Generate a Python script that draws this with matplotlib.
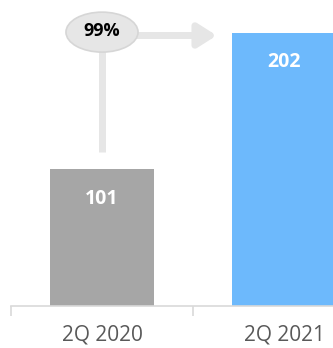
import matplotlib.pyplot as plt
from matplotlib.patches import Ellipse

# data
categories = ["2Q 2020", "2Q 2021"]
values = [101, 202]
growth_label = "99%"
bar_colors = ["#a6a6a6", "#6db9fc"]

fig = plt.figure(figsize=(3.33, 3.48), dpi=100)
# axes spills past the right edge so the second bar is cut off
ax = fig.add_axes([11 / 333, 42.5 / 348, 364 / 333, 305.5 / 348])

x = list(range(len(categories)))
ax.bar(x, values, width=0.566, color=bar_colors, zorder=2)

# value labels inside the bars
for xi, v in zip(x, values):
    ax.text(xi, v - 22, str(v), ha="center", va="center", color="white",
            fontsize=14, fontweight="bold", family="Open Sans", zorder=3)

ax.set_xlim(-0.5, 1.5)
ax.set_ylim(0, 305.5 / 1.35)

# growth callout: stem from first bar, bubble, arrow towards second bar
line_col = "#e6e6e6"
ax.plot([0, 0], [114, 190], color=line_col, lw=5, solid_capstyle="butt", zorder=1)
ax.annotate("", xy=(0.63, 200), xytext=(0.15, 200),
            arrowprops=dict(arrowstyle="-|>,head_length=1.1,head_width=0.7",
                            color=line_col, lw=5, shrinkA=0, shrinkB=0),
            zorder=1)
ax.add_patch(Ellipse((0, 202.5), 0.396, 29.6, facecolor="#e6e6e6",
                     edgecolor="#d6d6d6", lw=1.2, zorder=4))
ax.text(0, 203, growth_label, ha="center", va="center", color="black",
        fontsize=13, fontweight="bold", family="Open Sans", zorder=5)

# axis styling
for side in ["top", "right", "left"]:
    ax.spines[side].set_visible(False)
ax.spines["bottom"].set_color("#d9d9d9")
ax.spines["bottom"].set_linewidth(1.2)
ax.set_yticks([])
ax.set_xticks([-0.5, 0.5, 1.5])
ax.set_xticklabels([])
ax.set_xticks(x, minor=True)
ax.set_xticklabels(categories, minor=True, fontsize=15, color="#595959",
                   family="Open Sans")
ax.tick_params(axis="x", which="major", length=7, width=1.2, color="#d9d9d9")
ax.tick_params(axis="x", which="minor", length=0, pad=14)

fig.savefig("out.png", dpi=100)
